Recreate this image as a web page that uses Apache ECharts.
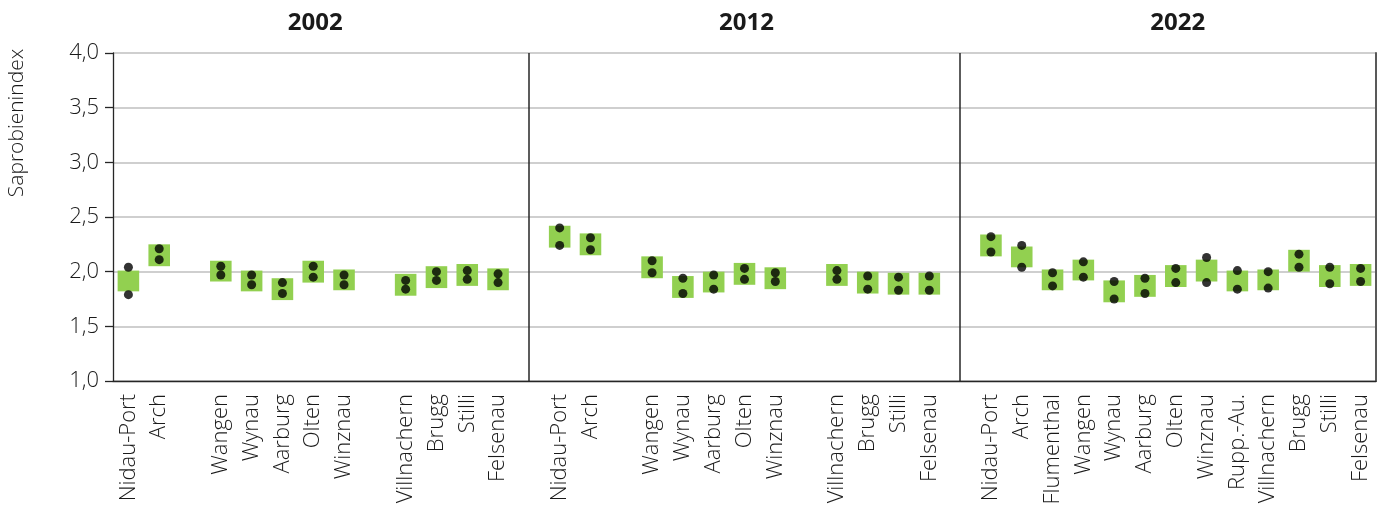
<!DOCTYPE html>
<html>
<head>
<meta charset="utf-8">
<script src="https://cdn.jsdelivr.net/npm/echarts@6/dist/echarts.min.js"></script>
<style>
html,body{margin:0;padding:0;background:#fff;}
#chart{width:1379px;height:515px;}
</style>
</head>
<body>
<div id="chart"></div>
<script>
// ---- data ----
const years = ['2002', '2012', '2022'];
const sites2002 = ['Nidau-Port','Arch','','Wangen','Wynau','Aarburg','Olten','Winznau','','Villnachern','Brugg','Stilli','Felsenau'];
const sites2012 = ['Nidau-Port','Arch','','Wangen','Wynau','Aarburg','Olten','Winznau','','Villnachern','Brugg','Stilli','Felsenau'];
const sites2022 = ['Nidau-Port','Arch','Flumenthal','Wangen','Wynau','Aarburg','Olten','Winznau','Rupp.-Au.','Villnachern','Brugg','Stilli','Felsenau'];

const boxLow2002  = [1.82, 2.05, null, 1.91, 1.82, 1.74, 1.90, 1.83, null, 1.78, 1.85, 1.87, 1.83];
const boxHigh2002 = [2.01, 2.25, null, 2.10, 2.01, 1.94, 2.10, 2.02, null, 1.98, 2.05, 2.07, 2.03];
const dotA2002    = [2.04, 2.21, null, 2.05, 1.97, 1.90, 2.05, 1.97, null, 1.92, 2.00, 2.01, 1.98];
const dotB2002    = [1.79, 2.11, null, 1.97, 1.88, 1.80, 1.95, 1.88, null, 1.84, 1.92, 1.93, 1.90];

const boxLow2012  = [2.22, 2.15, null, 1.94, 1.76, 1.81, 1.88, 1.84, null, 1.87, 1.80, 1.79, 1.79];
const boxHigh2012 = [2.42, 2.35, null, 2.14, 1.96, 2.00, 2.08, 2.04, null, 2.07, 2.00, 1.99, 1.99];
const dotA2012    = [2.40, 2.31, null, 2.10, 1.94, 1.97, 2.03, 1.99, null, 2.01, 1.96, 1.95, 1.96];
const dotB2012    = [2.24, 2.20, null, 1.99, 1.80, 1.84, 1.93, 1.91, null, 1.93, 1.84, 1.83, 1.83];

const boxLow2022  = [2.14, 2.04, 1.83, 1.92, 1.72, 1.77, 1.86, 1.91, 1.82, 1.83, 2.00, 1.86, 1.87];
const boxHigh2022 = [2.34, 2.23, 2.02, 2.11, 1.92, 1.97, 2.06, 2.11, 2.01, 2.02, 2.20, 2.06, 2.07];
const dotA2022    = [2.32, 2.24, 1.99, 2.09, 1.91, 1.94, 2.03, 2.13, 2.01, 2.00, 2.16, 2.04, 2.03];
const dotB2022    = [2.18, 2.04, 1.87, 1.95, 1.75, 1.80, 1.90, 1.90, 1.84, 1.85, 2.04, 1.89, 1.91];

const yName = 'Saprobienindex';

// ---- build combined category axis (panels separated by one empty slot) ----
const panels = [
  {sites: sites2002, lo: boxLow2002, hi: boxHigh2002, a: dotA2002, b: dotB2002},
  {sites: sites2012, lo: boxLow2012, hi: boxHigh2012, a: dotA2012, b: dotB2012},
  {sites: sites2022, lo: boxLow2022, hi: boxHigh2022, a: dotA2022, b: dotB2022}
];
const categories = [];
const boxData = [];
const dotData = [];
const dividerIdx = [];
const panelRanges = [];
panels.forEach((p, pi) => {
  if (pi > 0) { dividerIdx.push(categories.length); categories.push(''); }
  const start = categories.length;
  p.sites.forEach((s, i) => {
    const idx = categories.length;
    categories.push(s);
    if (p.lo[i] != null) boxData.push([idx, p.lo[i], p.hi[i]]);
    if (p.a[i] != null) dotData.push([idx, p.a[i]]);
    if (p.b[i] != null) dotData.push([idx, p.b[i]]);
  });
  panelRanges.push([start, categories.length - 1]);
});

const FONT = '"Open Sans", "Noto Sans", sans-serif';
const TXT = '#1a1a1a';
const chart = echarts.init(document.getElementById('chart'), null, {renderer: 'canvas'});

const option = {
  backgroundColor: '#ffffff',
  animation: false,
  grid: {left: 113, right: 3, top: 53, bottom: 134, containLabel: false},
  xAxis: {
    type: 'category',
    data: categories,
    boundaryGap: true,
    axisLine: {show: true, lineStyle: {color: '#262626', width: 1.3}},
    axisTick: {show: false},
    splitLine: {show: false},
    axisLabel: {
      interval: 0, rotate: 90, margin: 13,
      fontFamily: FONT, fontSize: 22, fontWeight: 300, color: TXT
    }
  },
  yAxis: [{
    type: 'value', min: 1, max: 4, interval: 0.5,
    axisLine: {show: true, lineStyle: {color: '#262626', width: 1.3}},
    axisTick: {show: true, length: 8, lineStyle: {color: '#262626', width: 1.3}},
    splitLine: {show: true, lineStyle: {color: '#bfbfbf', width: 1.5}},
    axisLabel: {
      margin: 14, fontFamily: FONT, fontSize: 22, fontWeight: 300, color: TXT,
      formatter: v => v.toFixed(1).replace('.', ',')
    }
  }, {
    type: 'value', min: 1, max: 4, interval: 0.5, position: 'right',
    axisLine: {show: true, lineStyle: {color: '#595959', width: 2}},
    axisTick: {show: false}, axisLabel: {show: false}, splitLine: {show: false}
  }],
  graphic: [
    {type: 'text', x: 17, y: 123, rotation: Math.PI / 2,
     style: {text: yName, fontFamily: FONT, fontSize: 21, fontWeight: 300, fill: TXT, align: 'center', verticalAlign: 'middle'}}
  ],
  series: [
    {
      type: 'custom',
      data: boxData,
      renderItem: function (params, api) {
        const x = api.value(0);
        const lo = api.coord([x, api.value(1)]);
        const hi = api.coord([x, api.value(2)]);
        const w = api.size([1, 0])[0] * 0.7;
        return {type: 'rect', shape: {x: lo[0] - w / 2, y: hi[1], width: w, height: lo[1] - hi[1]},
                style: {fill: '#92d050'}};
      },
      markLine: {
        silent: true, symbol: 'none', label: {show: false},
        lineStyle: {color: '#262626', width: 1.5, type: 'solid'},
        data: dividerIdx.map(i => ({xAxis: i}))
      },
      z: 2
    },
    {
      type: 'scatter',
      data: dotData,
      symbol: 'circle', symbolSize: 9,
      itemStyle: {color: '#000000'},
      z: 3
    }
  ]
};
chart.setOption(option);

// panel titles centred over each panel
const gr = option.graphic.slice();
panelRanges.forEach((r, i) => {
  const x0 = chart.convertToPixel({xAxisIndex: 0}, r[0]);
  const x1 = chart.convertToPixel({xAxisIndex: 0}, r[1]);
  gr.push({type: 'text', x: (x0 + x1) / 2 + 2, y: 23,
    style: {text: years[i], fontFamily: FONT, fontSize: 24, fontWeight: 'bold', fill: TXT, align: 'center', verticalAlign: 'middle'}});
});
chart.setOption({graphic: gr});
</script>
</body>
</html>
